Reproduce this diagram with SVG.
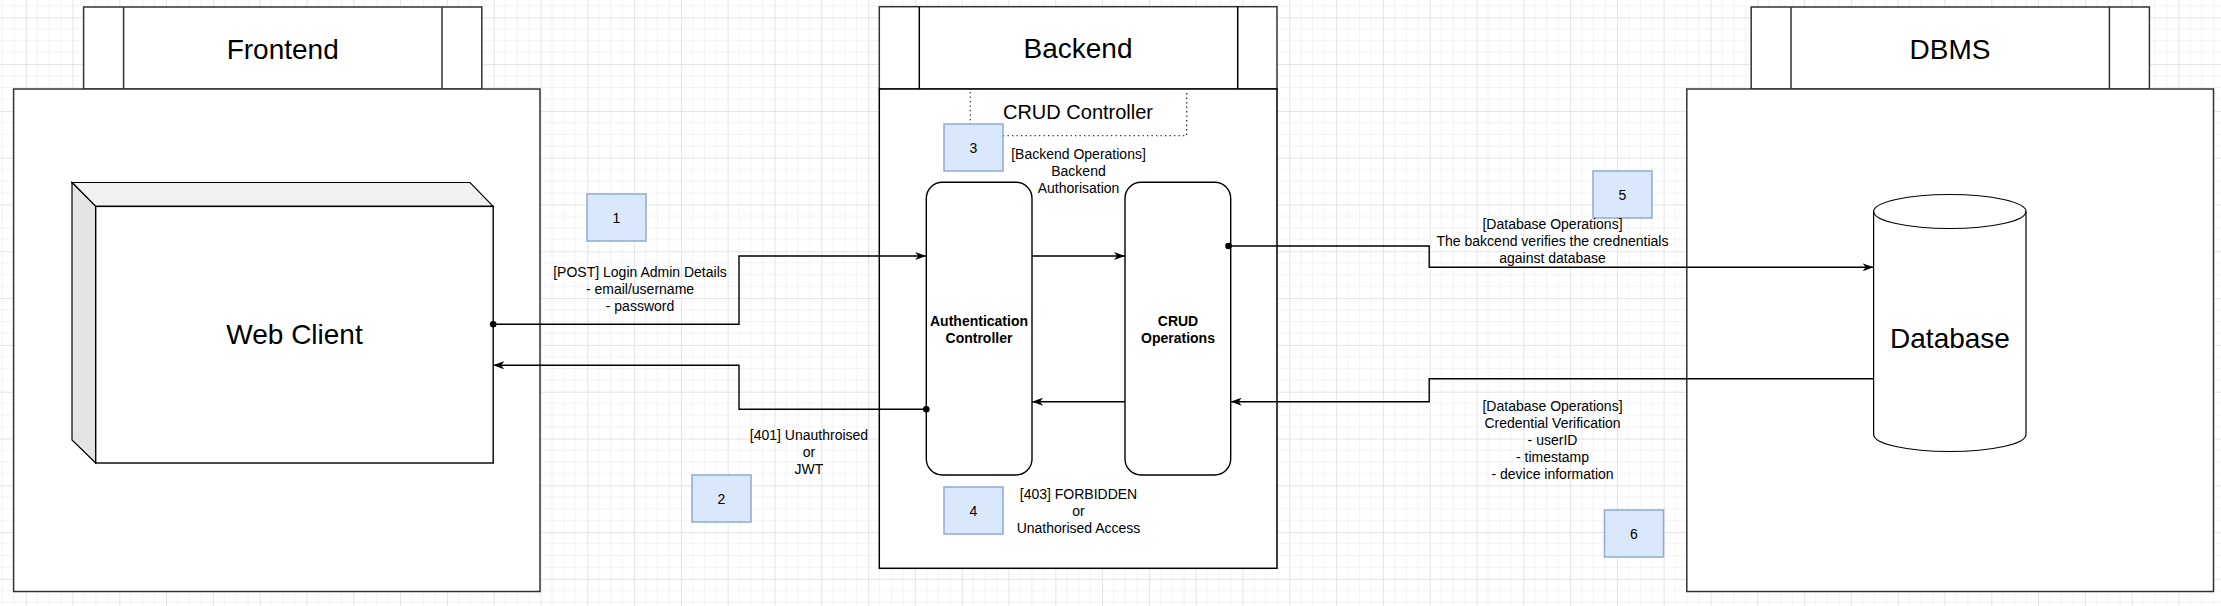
<svg xmlns="http://www.w3.org/2000/svg" width="2221" height="606" viewBox="0 0 2221 606">
<style>
text{font-family:"Liberation Sans",Arial,Helvetica,sans-serif;fill:#000}
.big{font-size:28px;text-anchor:middle}
.mid{font-size:20px;text-anchor:middle}
.lbl{font-size:14px;text-anchor:middle}
.bold{font-size:14px;font-weight:bold;text-anchor:middle}
.frame{fill:#fff;stroke:#333;stroke-width:1.5}
.num{fill:#dae8fc;stroke:#8fa9d3;stroke-width:1.5}
.node{fill:#fff;stroke:#000;stroke-width:1.4}
.conn{fill:none;stroke:#000;stroke-width:1.4}
</style>
<defs>
<pattern id="grid" x="25.7" y="17.3" width="46.8" height="46.8" patternUnits="userSpaceOnUse">
<path d="M11.7,0V46.8M23.4,0V46.8M35.1,0V46.8M0,11.7H46.8M0,23.4H46.8M0,35.1H46.8" stroke="#f3f3f3" stroke-width="1" fill="none"/>
<path d="M0.5,0V46.8M0,0.5H46.8" stroke="#e4e4e4" stroke-width="1" fill="none"/>
</pattern>
<marker id="arrow" viewBox="0 0 11 8" refX="11" refY="4" markerWidth="11" markerHeight="8" markerUnits="userSpaceOnUse" orient="auto">
<path d="M0,0 L11,4 L0,8 L3,4 z" fill="#000"/>
</marker>
<marker id="dot" viewBox="0 0 8 8" refX="4" refY="4" markerWidth="8" markerHeight="8" markerUnits="userSpaceOnUse" orient="auto">
<circle cx="4" cy="4" r="3.3" fill="#000"/>
</marker>
</defs>
<rect width="2221" height="606" fill="#fff"/>
<rect width="2221" height="606" fill="url(#grid)"/>

<g id="frontend">
<rect class="frame" x="83.6" y="7" width="398.2" height="82"/>
<line x1="123.6" y1="7" x2="123.6" y2="89" stroke="#333" stroke-width="1.5"/>
<line x1="442" y1="7" x2="442" y2="89" stroke="#333" stroke-width="1.5"/>
<text class="big" x="282.7" y="58.5">Frontend</text>
<rect class="frame" x="13.6" y="89" width="526.4" height="502.5"/>
</g>

<g id="web-client">
<path d="M72,182.5 H470 L493.2,206.4 H95.7 Z" fill="#f1f1f1" stroke="#000" stroke-width="1.2"/>
<path d="M72,182.5 L95.7,206.4 V463 L72,440 Z" fill="#e4e4e4" stroke="#000" stroke-width="1.2"/>
<rect x="95.7" y="206.4" width="397.5" height="256.6" fill="#fff" stroke="#000" stroke-width="1.4"/>
<text class="big" x="294.5" y="344">Web Client</text>
</g>

<g id="backend">
<rect class="frame" x="879.3" y="6.7" width="397.7" height="82.3"/>
<line x1="919.3" y1="6.7" x2="919.3" y2="89" stroke="#000" stroke-width="1.5"/>
<line x1="1237.7" y1="6.7" x2="1237.7" y2="89" stroke="#000" stroke-width="1.5"/>
<text class="big" x="1078" y="57.5">Backend</text>
<rect x="879.3" y="89" width="397.7" height="479.3" fill="#fff" stroke="#000" stroke-width="1.5"/>
</g>

<g id="crud-controller">
<rect x="970.3" y="89" width="216.4" height="46.7" fill="none" stroke="#333" stroke-width="1.3" stroke-dasharray="1.3,3.2"/>
<text class="mid" x="1078" y="119">CRUD Controller</text>
</g>

<g id="auth-controller">
<rect class="node" x="926.3" y="182.3" width="105.7" height="292.7" rx="16" ry="16"/>
<text class="bold" x="979" y="326">Authentication</text>
<text class="bold" x="979" y="343">Controller</text>
</g>

<g id="crud-operations">
<rect class="node" x="1125" y="182.3" width="105.7" height="292.7" rx="16" ry="16"/>
<text class="bold" x="1178" y="326">CRUD</text>
<text class="bold" x="1178" y="343">Operations</text>
</g>

<g id="dbms">
<rect class="frame" x="1751.2" y="7" width="398.2" height="82"/>
<line x1="1791" y1="7" x2="1791" y2="89" stroke="#333" stroke-width="1.5"/>
<line x1="2109.4" y1="7" x2="2109.4" y2="89" stroke="#333" stroke-width="1.5"/>
<text class="big" x="1950" y="58.5">DBMS</text>
<rect class="frame" x="1686.8" y="89" width="526.7" height="502.5"/>
</g>

<g id="database">
<path d="M1873.6,211.5 A76.2,17 0 0 1 2026,211.5 V434.5 A76.2,17 0 0 1 1873.6,434.5 Z" fill="#fff" stroke="#000" stroke-width="1.2"/>
<path d="M1873.6,211.5 A76.2,17 0 0 0 2026,211.5" fill="none" stroke="#000" stroke-width="1.2"/>
<text class="big" x="1950" y="348">Database</text>
</g>

<g id="step-1"><rect class="num" x="587" y="194" width="59" height="47"/><text class="lbl" x="616.5" y="222.5">1</text></g>
<g id="step-2"><rect class="num" x="692" y="475" width="59" height="47"/><text class="lbl" x="721.5" y="503.5">2</text></g>
<g id="step-3"><rect class="num" x="944" y="124" width="59" height="47"/><text class="lbl" x="973.5" y="152.5">3</text></g>
<g id="step-4"><rect class="num" x="944" y="487" width="59" height="47"/><text class="lbl" x="973.5" y="515.5">4</text></g>
<g id="step-5"><rect class="num" x="1593" y="171" width="59" height="47"/><text class="lbl" x="1622.5" y="199.5">5</text></g>
<g id="step-6"><rect class="num" x="1604.5" y="510" width="59" height="47"/><text class="lbl" x="1634" y="538.5">6</text></g>

<g id="connectors">
<path class="conn" d="M493.2,324.3 H739 V256 H926.3" marker-start="url(#dot)" marker-end="url(#arrow)"/>
<path class="conn" d="M926.3,409.3 H739 V365.3 H493.2" marker-start="url(#dot)" marker-end="url(#arrow)"/>
<path class="conn" d="M1032,256 H1125" marker-end="url(#arrow)"/>
<path class="conn" d="M1125,401.7 H1032" marker-end="url(#arrow)"/>
<path class="conn" d="M1228.5,246 H1429.2 V267.3 H1873.6" marker-start="url(#dot)" marker-end="url(#arrow)"/>
<path class="conn" d="M1873.6,378.7 H1429.2 V401.7 H1230.7" marker-end="url(#arrow)"/>
</g>

<g id="labels">
<text class="lbl" x="640" y="276.7">[POST] Login Admin Details</text>
<text class="lbl" x="640" y="293.7">- email/username</text>
<text class="lbl" x="640" y="310.7">- password</text>
<text class="lbl" x="809" y="440.3">[401] Unauthroised</text>
<text class="lbl" x="809" y="457.3">or</text>
<text class="lbl" x="809" y="474.3">JWT</text>
<text class="lbl" x="1078.5" y="159.3">[Backend Operations]</text>
<text class="lbl" x="1078.5" y="176.3">Backend</text>
<text class="lbl" x="1078.5" y="193.3">Authorisation</text>
<text class="lbl" x="1078.5" y="498.7">[403] FORBIDDEN</text>
<text class="lbl" x="1078.5" y="515.7">or</text>
<text class="lbl" x="1078.5" y="532.7">Unathorised Access</text>
<text class="lbl" x="1552.5" y="229">[Database Operations]</text>
<text class="lbl" x="1552.5" y="246">The bakcend verifies the crednentials</text>
<text class="lbl" x="1552.5" y="263">against database</text>
<text class="lbl" x="1552.5" y="411">[Database Operations]</text>
<text class="lbl" x="1552.5" y="428">Credential Verification</text>
<text class="lbl" x="1552.5" y="445">- userID</text>
<text class="lbl" x="1552.5" y="462">- timestamp</text>
<text class="lbl" x="1552.5" y="479">- device information</text>
</g>
</svg>
